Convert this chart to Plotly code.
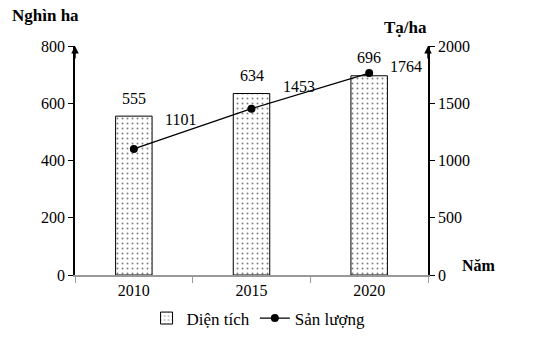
import plotly.graph_objects as go

years = ["2010", "2015", "2020"]
area = [555, 634, 696]          # Diện tích (nghìn ha)
output = [1101, 1453, 1764]     # Sản lượng (tạ/ha)
left_ticks = [0, 200, 400, 600, 800]
right_ticks = [0, 500, 1000, 1500, 2000]

FONT = "Liberation Serif, Times New Roman, serif"
TS = 16

fig = go.Figure()
fig.add_trace(go.Bar(
    x=years, y=area, name="Diện tích", width=0.31,
    marker=dict(color="white", line=dict(color="black", width=1),
                pattern=dict(shape=".", fgcolor="black", bgcolor="white",
                             size=5, solidity=0.12)),
))
fig.add_trace(go.Scatter(
    x=years, y=output, name="Sản lượng", yaxis="y2", mode="lines+markers",
    line=dict(color="black", width=1.3), marker=dict(color="black", size=8),
))

ann = []
for i, v in enumerate(area):
    ann.append(dict(x=i, y=v, xref="x", yref="y", text=str(v), showarrow=False,
                    yshift=18, font=dict(family=FONT, size=TS, color="black")))
shifts = [(47, 29), (47, 22), (37, 7)]
for i, (v, (dx, dy)) in enumerate(zip(output, shifts)):
    ann.append(dict(x=i, y=v, xref="x", yref="y2", text=str(v), showarrow=False,
                    xshift=dx, yshift=dy, font=dict(family=FONT, size=TS, color="black")))
# axis arrows
ann.append(dict(x=0, xref="paper", y=left_ticks[-1], yref="y", ax=0, ay=14, text="",
                showarrow=True, arrowhead=2, arrowsize=1, arrowwidth=1.5, arrowcolor="black"))
ann.append(dict(x=1, xref="paper", y=right_ticks[-1], yref="y2", ax=0, ay=14, text="",
                showarrow=True, arrowhead=2, arrowsize=1, arrowwidth=1.5, arrowcolor="black"))
# axis titles
ann.append(dict(x=-0.185, xref="paper", y=1.135, yref="paper", text="<b>Nghìn ha</b>",
                showarrow=False, xanchor="left", yanchor="middle",
                font=dict(family=FONT, size=17, color="black")))
ann.append(dict(x=0.87, xref="paper", y=1.08, yref="paper", text="<b>Tạ/ha</b>",
                showarrow=False, xanchor="left", yanchor="middle",
                font=dict(family=FONT, size=17, color="black")))
ann.append(dict(x=1.09, xref="paper", y=0.04, yref="paper", text="<b>Năm</b>",
                showarrow=False, xanchor="left", yanchor="middle",
                font=dict(family=FONT, size=16, color="black")))

fig.update_layout(
    width=547, height=348,
    margin=dict(l=75, r=119, t=46, b=67),
    paper_bgcolor="white", plot_bgcolor="white",
    font=dict(family=FONT, size=TS, color="black"),
    showlegend=True,
    legend=dict(orientation="h", x=0.52, xanchor="center", y=-0.19, yanchor="middle",
                font=dict(family=FONT, size=17, color="black"), itemwidth=30,
                tracegroupgap=0),
    annotations=ann,
    xaxis=dict(type="category", range=[-0.5, 2.5], showline=True, linecolor="#999999",
               linewidth=1.5, ticks="outside", tickson="boundaries", ticklen=6,
               tickcolor="#999999", showgrid=False, zeroline=False,
               tickfont=dict(family=FONT, size=TS)),
    yaxis=dict(range=[0, 800], tickvals=left_ticks, showline=True, linecolor="black",
               linewidth=1.5, ticks="outside", ticklen=5, tickcolor="black",
               showgrid=False, zeroline=False, tickfont=dict(family=FONT, size=TS)),
    yaxis2=dict(range=[0, 2000], tickvals=right_ticks, overlaying="y", side="right",
                showline=True, linecolor="black", linewidth=1.5, ticks="outside",
                ticklen=5, tickcolor="black", showgrid=False, zeroline=False,
                tickfont=dict(family=FONT, size=TS)),
)

fig.write_html("out.html")
